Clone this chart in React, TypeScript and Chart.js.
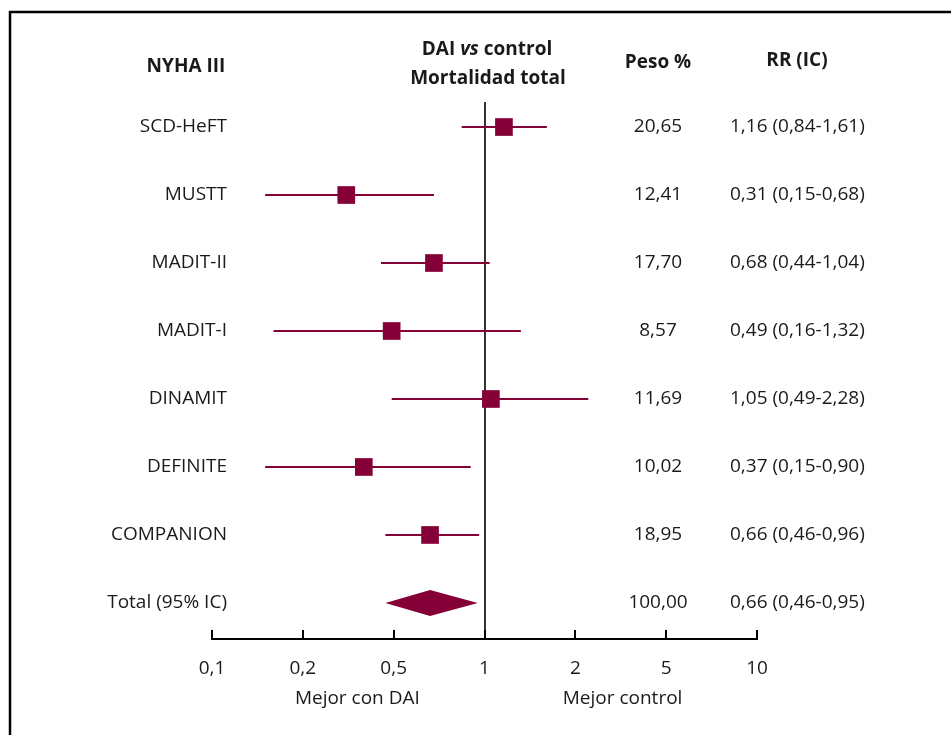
import React, { useEffect, useRef } from "react";
import { Chart, registerables } from "chart.js";
Chart.register(...registerables);

// ---- data ----
const studies = ["SCD-HeFT", "MUSTT", "MADIT-II", "MADIT-I", "DINAMIT", "DEFINITE", "COMPANION"];
const rrValues = [1.16, 0.31, 0.68, 0.49, 1.05, 0.37, 0.66];
const ciLow = [0.84, 0.15, 0.44, 0.16, 0.49, 0.15, 0.46];
const ciHigh = [1.61, 0.68, 1.04, 1.32, 2.28, 0.9, 0.96];
const weights = [20.65, 12.41, 17.7, 8.57, 11.69, 10.02, 18.95];
const totalLabel = "Total (95% IC)";
const totalRR = [0.66];
const totalLow = [0.46];
const totalHigh = [0.95];
const totalWeight = [100.0];
const tickValues = [0.1, 0.2, 0.5, 1, 2, 5, 10];
const tickLabels = ["0,1", "0,2", "0,5", "1", "2", "5", "10"];

const MAROON = "#850037";
const TEXT = "#1a1a1a";
const FONT = "'Open Sans', 'Noto Sans', sans-serif";

// piecewise-log position between the equally spaced ticks
function toAxis(v: number): number {
  for (let i = 0; i < tickValues.length - 1; i++) {
    const a = tickValues[i], b = tickValues[i + 1];
    if (v <= b || i === tickValues.length - 2) {
      return i + Math.log(v / a) / Math.log(b / a);
    }
  }
  return 0;
}
const fmt = (v: number) => v.toFixed(2).replace(".", ",");

export default function App() {
  const ref = useRef<HTMLCanvasElement | null>(null);
  useEffect(() => {
    if (!ref.current) return;
    const n = studies.length;
    const datasets: any[] = [];
    studies.forEach((_, i) => {
      datasets.push({
        type: "scatter",
        showLine: true,
        data: [
          { x: toAxis(ciLow[i]), y: i },
          { x: toAxis(ciHigh[i]), y: i },
        ],
        borderColor: MAROON,
        borderWidth: 2,
        pointRadius: 0,
        order: 2,
      });
    });
    datasets.push({
      type: "scatter",
      data: rrValues.map((v, i) => ({ x: toAxis(v), y: i })),
      pointStyle: "rect",
      pointRadius: 12.5,
      backgroundColor: MAROON,
      borderWidth: 0,
      order: 1,
    });
    const dh = 0.19;
    datasets.push({
      type: "scatter",
      showLine: true,
      fill: "shape",
      backgroundColor: MAROON,
      borderColor: MAROON,
      borderWidth: 0,
      pointRadius: 0,
      data: [
        { x: toAxis(totalLow[0]), y: n },
        { x: toAxis(totalRR[0]), y: n - dh },
        { x: toAxis(totalHigh[0]), y: n },
        { x: toAxis(totalRR[0]), y: n + dh },
        { x: toAxis(totalLow[0]), y: n },
      ],
      order: 1,
    });

    const textPlugin = {
      id: "forestText",
      beforeDraw(chart: any) {
        const c = chart.ctx;
        c.save();
        c.fillStyle = "#fff";
        c.fillRect(0, 0, chart.width, chart.height);
        c.restore();
      },
      afterDraw(chart: any) {
        const c = chart.ctx as CanvasRenderingContext2D;
        const ys = chart.scales.y;
        const xs = chart.scales.x;
        c.save();
        // frame
        c.strokeStyle = "#000";
        c.lineWidth = 2.5;
        c.beginPath();
        c.moveTo(10, 735);
        c.lineTo(10, 12);
        c.lineTo(951, 12);
        c.stroke();

        c.fillStyle = TEXT;
        c.textBaseline = "middle";
        // headers
        c.font = `bold 19px ${FONT}`;
        c.textAlign = "center";
        c.fillText("NYHA III", 186, 67);
        c.fillText("Mortalidad total", 488, 79);
        c.fillText("Peso %", 658, 63);
        c.fillText("RR (IC)", 797, 61);
        // "DAI vs control" with italic vs
        c.textAlign = "left";
        const p1 = "DAI ", p2 = "vs", p3 = " control";
        c.font = `bold 19px ${FONT}`;
        const w1 = c.measureText(p1).width;
        const w3 = c.measureText(p3).width;
        c.font = `italic bold 19px ${FONT}`;
        const w2 = c.measureText(p2).width;
        const sx = 487 - (w1 + w2 + w3) / 2;
        c.font = `bold 19px ${FONT}`;
        c.fillText(p1, sx, 50);
        c.font = `italic bold 19px ${FONT}`;
        c.fillText(p2, sx + w1, 50);
        c.font = `bold 19px ${FONT}`;
        c.fillText(p3, sx + w1 + w2, 50);

        // rows
        c.font = `19px ${FONT}`;
        const names = [...studies, totalLabel];
        const ws = [...weights, totalWeight[0]];
        const rr = [...rrValues, totalRR[0]];
        const lo = [...ciLow, totalLow[0]];
        const hi = [...ciHigh, totalHigh[0]];
        names.forEach((name, i) => {
          const y = ys.getPixelForValue(i);
          c.textAlign = "right";
          c.fillText(name, 227, y);
          c.textAlign = "center";
          c.fillText(fmt(ws[i]), 658, y);
          c.textAlign = "left";
          c.fillText(`${fmt(rr[i])} (${fmt(lo[i])}-${fmt(hi[i])})`, 730, y);
        });
        // bottom labels
        c.textAlign = "center";
        c.fillText("Mejor con DAI", xs.getPixelForValue(1.6), 699);
        c.fillText("Mejor control", xs.getPixelForValue(4.52), 699);
        c.restore();
      },
    };

    const chart = new Chart(ref.current, {
      type: "scatter",
      data: { datasets },
      options: {
        animation: false,
        responsive: false,
        events: [],
        layout: { padding: { left: 212, right: 194, top: 102, bottom: 0 } },
        plugins: { legend: { display: false }, tooltip: { enabled: false } },
        scales: {
          x: {
            type: "linear",
            min: 0,
            max: 6,
            afterFit: (s: any) => {
              s.height = 96;
            },
            ticks: {
              stepSize: 1,
              autoSkip: false,
              maxRotation: 0,
              padding: 27,
              color: TEXT,
              font: { family: FONT, size: 19 },
              callback: (v: any) => tickLabels[Math.round(Number(v))] ?? "",
            },
            grid: {
              drawOnChartArea: true,
              drawTicks: true,
              tickLength: -9,
              tickWidth: 2,
              tickColor: "#000",
              lineWidth: 2,
              color: (ctx: any) => (ctx.tick && ctx.tick.value === 3 ? "#333" : "rgba(0,0,0,0)"),
            },
            border: { display: true, color: "#000", width: 2 },
          },
          y: {
            type: "linear",
            display: false,
            reverse: true,
            min: -0.368,
            max: 7.53,
          },
        },
      },
      plugins: [textPlugin],
    } as any);
    return () => chart.destroy();
  }, []);

  return (
    <div style={{ position: "absolute", left: 0, top: 0, width: 951, height: 735 }}>
      <canvas ref={ref} width={951} height={735} style={{ display: "block" }} />
    </div>
  );
}
